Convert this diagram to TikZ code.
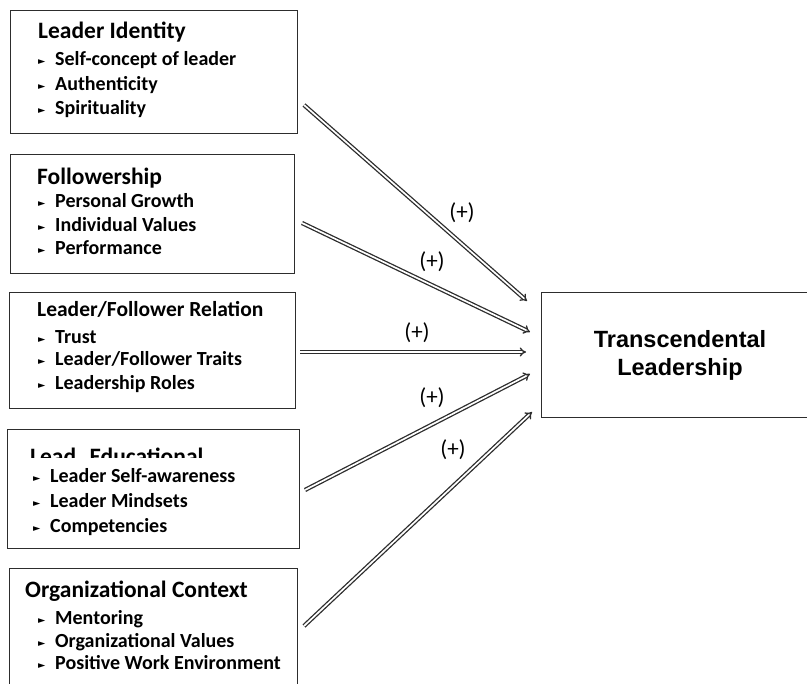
\documentclass[tikz,border=0pt]{standalone}
\usepackage{fontspec}
\setmainfont{Carlito}
\newfontfamily\arialfont{Liberation Sans}
\newfontfamily\symfont{DejaVu Sans}
\usetikzlibrary{arrows.meta, positioning}
\definecolor{linegray}{RGB}{45, 45, 45}
\newcommand{\bul}{\makebox[17pt][l]{\raisebox{1.6pt}{\symfont\fontsize{9.5}{9.5}\selectfont ►}}}
\newcommand{\boxtitle}[2][23.5]{{\fontsize{#1}{24}\selectfont #2}}

\begin{document}
\begin{tikzpicture}[x=1pt, y=-1pt,
    factor/.style={draw=linegray, line width=1pt, anchor=north west, inner sep=0pt},
    factortext/.style={anchor=base west, text width=275pt, align=flush left, inner sep=0pt, font=\fontsize{20}{24}\selectfont\bfseries},
    plus/.style={font=\fontsize{23}{23}\selectfont},
    link/.style={draw=linegray, line width=1.3pt, double=white, double distance=1.7pt, -{Implies}}
]
    \clip (0,0) rectangle (807,684);

    % Factor boxes (left)
    \node[factor, minimum width=287pt, minimum height=123pt] (identity) at (10,10) {};
    \node[factor, minimum width=284pt, minimum height=119pt] (followers) at (10,154) {};
    \node[factor, minimum width=286pt, minimum height=116pt] (relation) at (9,292) {};
    \node[factor, minimum width=292pt, minimum height=119pt] (educ) at (7,429) {};
    \node[factor, minimum width=288pt, minimum height=140pt] (context) at (9,568) {};

    % Box contents
    \node[factortext] (identitytxt) at (38,39) {\boxtitle{Leader Identity}\\[3pt]
        \bul Self-concept of leader\\[1pt] \bul Authenticity\\ \bul Spirituality};
    \node[factortext] (followerstxt) at (37,185) {\boxtitle{Followership}\\[-1pt]
        \hspace*{1pt}\bul Personal Growth\\ \hspace*{1pt}\bul Individual Values\\[-1pt] \hspace*{1pt}\bul Performance};
    \node[factortext] (relationtxt) at (37,317) {\boxtitle[21.5]{Leader/Follower Relation}\\[3pt]
        \hspace*{1pt}\bul Trust\\[-2pt] \hspace*{1pt}\bul Leader/Follower Traits\\ \hspace*{1pt}\bul Leadership Roles};
    \begin{scope}
        \clip (7,429) rectangle (299,458);
        \node[factortext, text depth=0pt] (eductitle) at (30,465) {\boxtitle{Lead. Educational}};
    \end{scope}
    \node[factortext] (eductxt) at (33,483) {\bul Leader Self-awareness\\[1pt]
        \bul Leader Mindsets\\[1pt] \bul Competencies};
    \node[factortext] (contexttxt) at (25,598) {\boxtitle{Organizational Context}\\[3pt]
        \hspace*{13pt}\bul Mentoring\\[-1pt] \hspace*{13pt}\bul Organizational Values\\[-2pt] \hspace*{13pt}\bul Positive Work Environment};

    % Outcome box (right)
    \node[factor, anchor=center, minimum width=278pt, minimum height=125pt, align=center,
        font=\arialfont\bfseries\fontsize{23.5}{28}\selectfont] (transcend) at (680,355.5) {Transcendental\\Leadership};

    % Arrow end points
    \coordinate (s1) at (304,105);
    \coordinate (s2) at (302,223);
    \coordinate (s3) at (300,352);
    \coordinate (s4) at (305,490);
    \coordinate (s5) at (304,626);
    \coordinate (e1) at (527,301);
    \coordinate (e2) at (530,332);
    \coordinate (e3) at (526,352);
    \coordinate (e4) at (530,374);
    \coordinate (e5) at (532,412);

    % Connections
    \draw[link] (s1) -- (e1);
    \draw[link] (s2) -- (e2);
    \draw[link] (s3) -- (e3);
    \draw[link] (s4) -- (e4);
    \draw[link] (s5) -- (e5);

    % Labels
    \node[plus] (p1) at (462,213) {(+)};
    \node[plus] (p2) at (432,262) {(+)};
    \node[plus] (p3) at (417,333) {(+)};
    \node[plus] (p4) at (432,398) {(+)};
    \node[plus] (p5) at (453,450) {(+)};

\end{tikzpicture}
\end{document}
